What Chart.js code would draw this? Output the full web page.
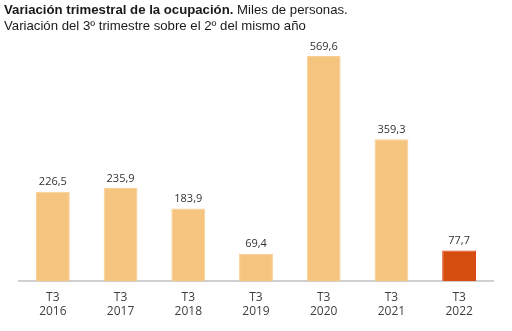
<!DOCTYPE html>
<html><head><meta charset="utf-8">
<script src="https://cdn.jsdelivr.net/npm/chart.js@4"></script>
<style>
html,body{margin:0;padding:0;background:#fff;width:512px;height:331px;overflow:hidden;}
#wrap{position:relative;width:512px;height:331px;}
#title{position:absolute;left:4px;top:2px;font-family:"Liberation Sans",Arial,sans-serif;font-size:13.2px;line-height:16px;color:#1a1a1a;z-index:2;}
canvas{position:absolute;left:0;top:0;}
</style></head>
<body><div id="wrap">
<div id="title"><b>Variación trimestral de la ocupación.</b> Miles de personas.<br>Variación del 3º trimestre sobre el 2º del mismo año</div>
<canvas id="c" width="512" height="331"></canvas></div>
<script>
const quarters = ["T3","T3","T3","T3","T3","T3","T3"];
const years = ["2016","2017","2018","2019","2020","2021","2022"];
const values = [226.5, 235.9, 183.9, 69.4, 569.6, 359.3, 77.7];
const labels = quarters.map((q,i)=>[q, years[i]]);
const colors = values.map((v,i)=> i===values.length-1 ? "#D64D10" : "#F5C47E");
const borders = values.map((v,i)=> i===values.length-1 ? "#E03A10" : "#F8CF94");

const valueLabels = {
  id:'valueLabels',
  afterDatasetsDraw(chart){
    const ctx = chart.ctx;
    const meta = chart.getDatasetMeta(0);
    ctx.save();
    ctx.font = '11px "Open Sans", "Liberation Sans", sans-serif';
    ctx.fillStyle = '#333';
    ctx.textAlign = 'center';
    ctx.textBaseline = 'bottom';
    meta.data.forEach((bar,i)=>{
      ctx.fillText(values[i].toFixed(1).replace('.',','), bar.x, bar.y - 4);
    });
    ctx.restore();
  }
};

new Chart(document.getElementById('c'), {
  type:'bar',
  data:{labels:labels, datasets:[{data:values, backgroundColor:colors, borderColor:borders, borderWidth:1, categoryPercentage:1, barPercentage:0.5}]},
  options:{
    responsive:false, animation:false,
    layout:{padding:{left:19,right:19,top:44,bottom:3}},
    plugins:{legend:{display:false}, tooltip:{enabled:false}, title:{display:false}},
    scales:{
      y:{display:false, min:0, max:600},
      x:{grid:{display:false, drawTicks:false}, border:{display:true, color:'#D0D0D0', width:2},
         ticks:{padding:9, color:'#404040', font:{family:'"Open Sans", "Liberation Sans", sans-serif', size:12, lineHeight:1.2}}}
    }
  },
  plugins:[valueLabels]
});
</script></body></html>
